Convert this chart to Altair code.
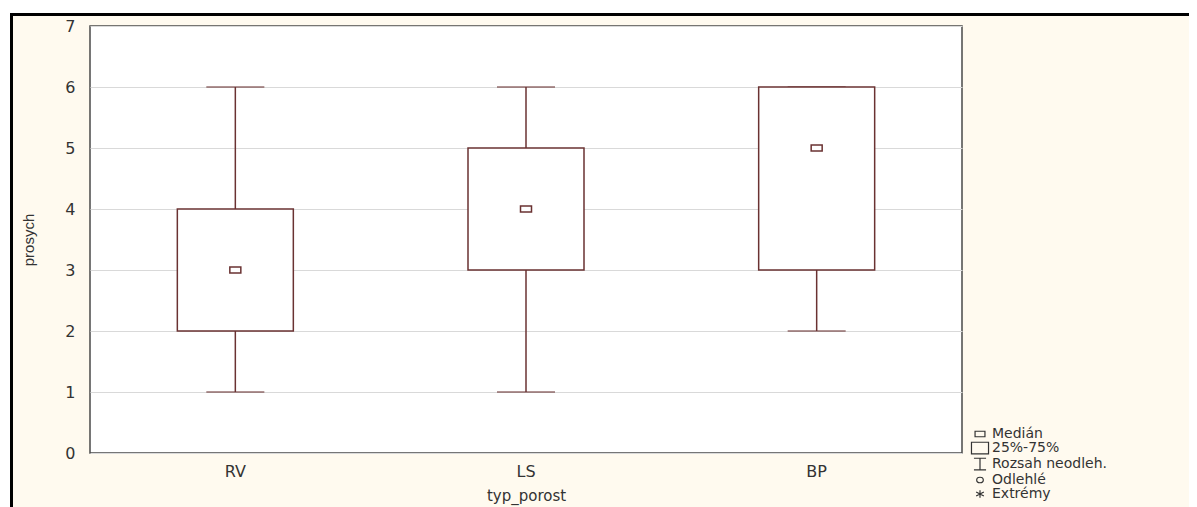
import altair as alt
import pandas as pd

# ---- data ----
groups = ["RV", "LS", "BP"]
mins = [1, 1, 2]
q1s = [2, 3, 3]
medians = [3, 4, 5]
q3s = [4, 5, 6]
maxs = [6, 6, 6]
y_ticks = [0, 1, 2, 3, 4, 5, 6, 7]
legend_labels = ["Medián", "25%-75%", "Rozsah neodleh.", "Odlehlé", "Extrémy"]
legend_paths = [
    "M-0.9,-0.5H0.9V0.5H-0.9Z",
    "M-1.55,-1.05H1.55V1.05H-1.55Z",
    "M-1.1,-1.05H1.1M0,-1.05V1.05M-1.1,1.05H1.1",
    "M-0.6,0A0.6,0.5 0 1,0 0.6,0A0.6,0.5 0 1,0 -0.6,0Z",
    "M0,-0.7V0.7M-0.7,-0.35L0.7,0.35M-0.7,0.35L0.7,-0.35",
]

df = pd.DataFrame({"typ_porost": groups, "min": mins, "q1": q1s,
                   "median": medians, "q3": q3s, "max": maxs})
leg_df = pd.DataFrame({"label": legend_labels})
one = pd.DataFrame({"a": [0]})

W, H = 872, 427
LINE = "#6a3232"
CREAM = "#fffaef"
FONT = "DejaVu Sans"

xenc = alt.X("typ_porost:N", sort=groups,
             scale=alt.Scale(paddingInner=0, paddingOuter=0),
             axis=alt.Axis(title="typ_porost", labelAngle=0, labelPadding=10,
                           labelFontSize=16, titleFontSize=15, titlePadding=9,
                           labelFont=FONT, titleFont=FONT, grid=False,
                           ticks=False, domain=False, labelColor="#333",
                           titleColor="#333", titleFontWeight="normal"))
yscale = alt.Scale(domain=[0, 7], nice=False, zero=True)
yaxis = alt.Axis(title="prosych", values=y_ticks, labelPadding=15,
                 labelFontSize=16, labelFont=FONT, titleFont="Liberation Sans",
                 titleFontSize=15, titlePadding=28, grid=True,
                 gridColor="#d9d9d9", gridWidth=1, ticks=False, domain=False,
                 labelColor="#333", titleColor="#333", titleFontWeight="normal")

base = alt.Chart(df)

lower_whisker = base.mark_rule(color=LINE, strokeWidth=1.5).encode(
    x=xenc, y=alt.Y("min:Q", scale=yscale, axis=yaxis), y2="q1:Q")
upper_whisker = base.mark_rule(color=LINE, strokeWidth=1.5).encode(
    x=xenc, y=alt.Y("q3:Q", scale=yscale, axis=yaxis), y2="max:Q")
cap_low = base.mark_tick(color=LINE, size=58, thickness=1.5).encode(
    x=xenc, y=alt.Y("min:Q", scale=yscale, axis=yaxis))
cap_high = base.mark_tick(color=LINE, size=58, thickness=1.5).encode(
    x=xenc, y=alt.Y("max:Q", scale=yscale, axis=yaxis))
box = base.mark_bar(size=116, fill="white", stroke=LINE, strokeWidth=1.5).encode(
    x=xenc, y=alt.Y("q1:Q", scale=yscale, axis=yaxis), y2="q3:Q")
med = base.mark_point(shape="M-1,-0.55H1V0.55H-1Z", size=121, filled=False,
                      color=LINE, strokeWidth=1.5, opacity=1).encode(
    x=xenc, y=alt.Y("median:Q", scale=yscale, axis=yaxis))

legend_layer = alt.Chart(leg_df).mark_point(filled=False, color="#333",
                                            strokeWidth=1.2, opacity=1).encode(
    shape=alt.Shape("label:N", sort=legend_labels,
                    scale=alt.Scale(domain=legend_labels, range=legend_paths),
                    legend=alt.Legend(orient="none", legendX=883, legendY=401,
                                      title=None, labelFont=FONT,
                                      labelFontSize=14, labelColor="#333",
                                      symbolSize=121, symbolStrokeWidth=1.2,
                                      symbolStrokeColor="#333",
                                      symbolFillColor="transparent",
                                      rowPadding=-2.5, labelOffset=5, padding=0,
                                      labelLimit=300)),
    x=alt.value(-2000), y=alt.value(-2000))

# page decorations: white strip outside the framed panel and the black frame
white_top = alt.Chart(one).mark_rect(fill="white").encode(
    x=alt.value(-82), x2=alt.value(1300), y=alt.value(-18), y2=alt.value(-13))
white_left = alt.Chart(one).mark_rect(fill="white").encode(
    x=alt.value(-82), x2=alt.value(-80), y=alt.value(-18), y2=alt.value(700))
frame = alt.Chart(one).mark_rect(fill="transparent", stroke="black",
                                 strokeWidth=3).encode(
    x=alt.value(-78.5), x2=alt.value(1400), y=alt.value(-11.5), y2=alt.value(800))

chart = alt.layer(
    lower_whisker, upper_whisker, cap_low, cap_high, box, med,
    legend_layer, white_top, white_left, frame
).properties(
    width=W, height=H, autosize="none",
    padding={"left": 82, "top": 18, "right": 227, "bottom": 54},
    background=CREAM,
).configure_view(
    fill="white", stroke="#4a4a4a", strokeWidth=1.5
)

chart.save("out.html", embed_options={"renderer": "svg", "actions": False})
